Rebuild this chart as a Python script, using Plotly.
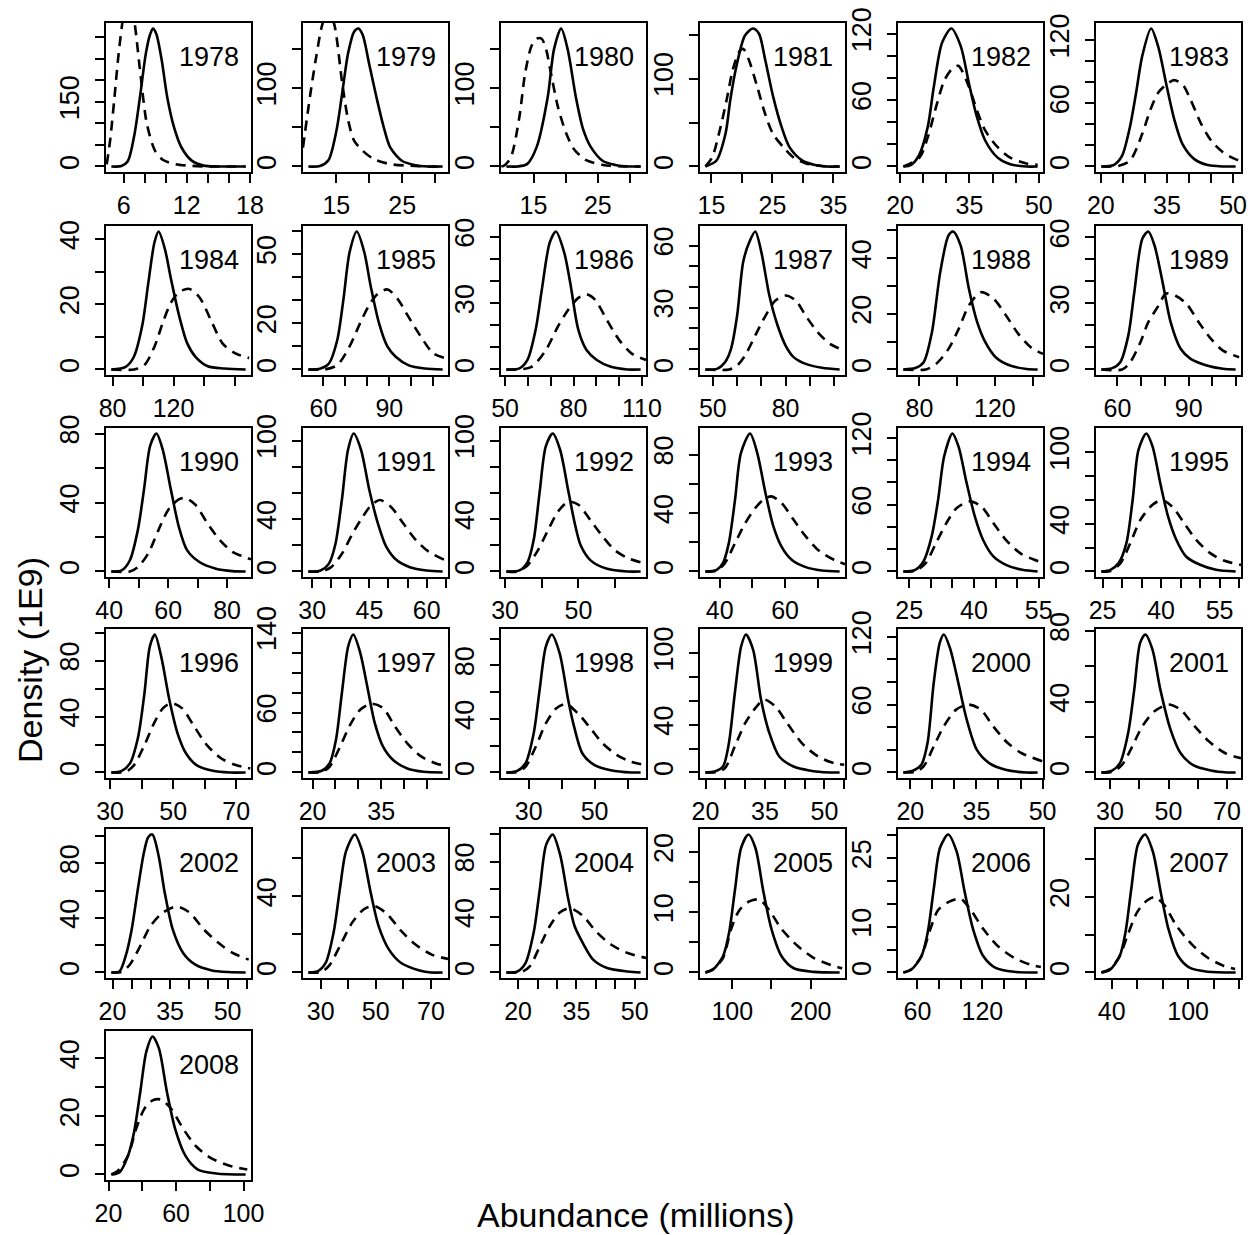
import plotly.graph_objects as go

# ---------------------------------------------------------------------------
# Posterior (solid) and prior (dashed) abundance densities, one panel per year.
# x: abundance (millions), y: density (1E9)
# ---------------------------------------------------------------------------
years = list(range(1978, 2009))

S1978_X = [4.84, 5.8, 6.4, 7.0, 7.55, 8.1, 8.5, 8.79, 9.1, 9.6, 10.15, 10.8, 11.5, 12.5, 13.6, 15.0, 17.59]
S1978_Y = [0, 1, 12, 70, 160, 260, 305, 320, 308, 250, 160, 90, 44, 13, 2, 0, 0]
D1978_X = [4.4, 4.72, 5.11, 5.5, 5.88, 6.45, 7.05, 7.63, 8.21, 8.98, 9.76, 10.92, 12.47, 14.0, 17.59]
D1978_Y = [5, 60, 154, 255, 333, 420, 333, 208, 99, 37, 15, 5.5, 1.5, 0, 0]

S1979_X = [10.76, 12.5, 13.8, 15.0, 15.8, 16.8, 17.7, 18.35, 19.0, 20.0, 21.1, 22.2, 23.2, 25.0, 26.8, 29.0, 31.13]
S1979_Y = [0, 0.5, 8, 45, 88, 145, 172, 176, 168, 130, 88, 50, 24, 7, 2, 0, 0]
D1979_X = [9.94, 11.0, 11.95, 12.87, 13.8, 14.7, 15.9, 16.8, 17.7, 19.0, 20.7, 23.2, 26.2, 29.0, 31.13]
D1979_Y = [24, 89, 140, 181, 200, 181, 106, 59, 33, 20, 9.4, 3, 1, 0, 0]

S1980_X = [10.78, 12.5, 14.0, 15.5, 17.2, 18.2, 19.3, 20.3, 21.6, 22.7, 23.9, 25.8, 27.7, 30.0, 31.66]
S1980_Y = [0, 0, 3, 25, 88, 150, 176, 150, 88, 48, 25, 7, 2, 0, 0]
D1980_X = [10.0, 10.57, 11.5, 12.8, 13.7, 14.7, 15.5, 16.27, 17.0, 17.5, 18.8, 20.1, 21.3, 23.2, 25.8, 29.0, 31.66]
D1980_Y = [0, 2, 12, 63, 119, 154, 163, 163, 148, 128, 76, 42, 22, 8, 2, 0, 0]

S1981_X = [14.01, 15.8, 17.3, 18.1, 19.1, 20.5, 21.8, 22.8, 23.8, 25.1, 26.5, 27.8, 29.8, 31.8, 33.8, 36.02]
S1981_Y = [0, 6.5, 37, 76, 114, 149, 157, 151, 122, 80, 45, 22, 7.3, 2, 0, 0]
D1981_X = [14.01, 15.1, 16.5, 17.5, 18.5, 19.5, 20.2, 21.1, 22.5, 23.8, 25.1, 26.8, 28.5, 30.5, 33.1, 36.02]
D1981_Y = [0, 10, 45, 76, 110, 130, 134, 122, 91, 60, 37, 22, 10, 3.5, 0.5, 0]

S1982_X = [20.72, 22.4, 24.2, 26.0, 27.3, 29.1, 31.1, 33.1, 34.9, 36.6, 38.4, 41.1, 43.8, 47.3, 49.74]
S1982_Y = [0, 1.5, 11, 36, 72, 112, 124.7, 109, 75, 45, 23.5, 8, 2, 0, 0]
D1982_X = [20.72, 24.2, 26.0, 27.8, 29.6, 31.4, 32.6, 34.9, 36.6, 38.4, 41.1, 43.8, 47.3, 49.74]
D1982_Y = [0, 8, 26.5, 54, 78, 89, 91, 72, 51, 32.6, 17.4, 8, 2.7, 1.5]

S1983_X = [20.12, 23.0, 24.8, 26.6, 28.0, 29.4, 31.4, 33.0, 34.8, 36.7, 38.5, 41.2, 44.0, 47.7, 50.58]
S1983_Y = [0, 1.6, 10, 37.5, 70, 105, 131, 114, 79, 44, 21.5, 7, 1.6, 0, 0]
D1983_X = [20.12, 23.9, 26.6, 29.4, 31.2, 33.0, 34.8, 36.6, 38.6, 40.4, 42.7, 45.0, 47.7, 50.5, 51.8]
D1983_Y = [0, 0.5, 5.4, 31, 53.5, 70, 77.6, 82, 77.6, 63, 41, 24.7, 13.5, 7, 5.4]

S1984_X = [79.22, 88.6, 94.0, 99.4, 103.5, 107.5, 110.2, 114.3, 118.3, 123.7, 129.0, 134.4, 142.5, 153.3, 167.28]
S1984_Y = [0, 0.8, 3.9, 13.3, 26.7, 39, 42.3, 37, 27.8, 16.4, 8, 3.9, 1, 0.3, 0]
D1984_X = [79.22, 94.0, 100.8, 107.5, 112.9, 118.3, 123.7, 130.5, 137.2, 145.3, 152.1, 160.2, 169.6]
D1984_Y = [0, 0, 1.3, 7, 14.3, 20.5, 23.8, 24.7, 22, 14.3, 8, 5, 3.5]

S1985_X = [53.14, 58.7, 62.5, 66.3, 69.1, 71.9, 75.2, 78.6, 81.5, 85.3, 89.1, 92.9, 98.6, 106.2, 114.26]
S1985_Y = [0, 0.4, 2.6, 12.8, 30.4, 50.8, 59.8, 50.8, 36.2, 20.1, 10, 5.5, 1.9, 0.4, 0]
D1985_X = [53.14, 60.6, 66.3, 71.9, 76.7, 80.5, 84.4, 89.1, 93.9, 98.6, 104.3, 110.0, 115.7]
D1985_Y = [0, 0, 1.9, 10, 20.1, 27.4, 32.5, 34.7, 30.4, 23, 14.3, 7, 4.8]

S1986_X = [50.56, 56.3, 59.8, 63.4, 66.1, 69.6, 72.3, 75.9, 78.6, 82.1, 85.7, 90.2, 96.4, 103.6, 109.44]
S1986_Y = [0, 0.5, 4.3, 18, 36, 57.5, 62.4, 53, 39, 18, 8.8, 4.3, 1.2, 0, 0]
D1986_X = [50.56, 55.4, 61.6, 67.9, 73.2, 77.7, 82.1, 85.7, 89.3, 94.6, 100.0, 105.4, 111.8]
D1986_Y = [0, 0, 1.2, 8.8, 19.5, 27, 32.4, 34, 31.7, 22.5, 13.4, 7.3, 4.3]

S1987_X = [46.91, 51.7, 55.0, 57.5, 60.0, 62.5, 65.0, 67.5, 70.0, 73.3, 76.7, 80.0, 83.3, 88.3, 95.0, 102.29]
S1987_Y = [0, 0.3, 3.5, 10, 26, 52, 61.6, 66.8, 56.8, 35.8, 21.3, 11.6, 6, 2.7, 0.8, 0]
D1987_X = [46.91, 56.7, 60.0, 63.3, 67.5, 71.7, 75.8, 80.0, 84.2, 88.3, 93.3, 98.3, 102.5]
D1987_Y = [0, 0, 1.9, 6.8, 16.5, 26, 33.4, 35.8, 33.4, 26, 18, 12.4, 10]

S1988_X = [71.45, 77.8, 82.2, 86.6, 91.0, 95.4, 97.9, 101.8, 106.2, 110.6, 114.9, 120.4, 128.0, 136.8, 142.65]
S1988_Y = [0, 0.5, 2.6, 13.4, 35, 48.2, 49.6, 44.6, 29, 17, 9.8, 4.4, 1.4, 0.2, 0]
D1988_X = [71.45, 83.3, 88.8, 95.4, 100.8, 106.2, 112.7, 119.3, 125.9, 132.4, 139.0, 145.5]
D1988_Y = [0, 0, 2, 7.4, 14.6, 23, 27.8, 25.4, 19.4, 12.8, 8, 5.6]

S1989_X = [53.26, 57.8, 61.2, 64.6, 67.1, 70.5, 73.0, 75.6, 79.0, 82.4, 86.6, 90.8, 97.6, 104.4, 109.74]
S1989_Y = [0, 0.6, 3.3, 15.5, 35, 59.4, 62.7, 56.4, 39.7, 21.5, 9.4, 4.8, 1.8, 0.3, 0]
D1989_X = [53.26, 62.0, 65.4, 69.7, 73.0, 77.3, 80.5, 84.5, 89.1, 94.2, 99.3, 104.4, 111.2]
D1989_Y = [0, 0, 3.3, 12.4, 21.5, 29, 34.5, 33.5, 29.8, 21.5, 14, 8.6, 5.6]

S1990_X = [40.72, 44.2, 47.0, 49.7, 51.8, 53.9, 56.0, 58.1, 60.9, 63.6, 66.4, 70.6, 76.2, 81.8, 86.28]
S1990_Y = [0, 0.6, 6.5, 24, 47.6, 73, 80, 71, 47.6, 26, 12.4, 5.5, 1.6, 0.2, 0]
D1990_X = [40.72, 47.0, 49.7, 53.2, 56.7, 60.1, 63.6, 65.7, 69.2, 73.3, 77.5, 81.8, 86.0, 88.1]
D1990_Y = [0, 0, 2.5, 10.4, 24, 36, 41.8, 42.7, 38.8, 28, 18.2, 11.4, 8.4, 7]

S1991_X = [29.01, 32.2, 34.4, 36.1, 37.8, 39.4, 40.9, 42.8, 45.0, 47.2, 49.4, 52.2, 55.6, 60.0, 64.19]
S1991_Y = [0, 0.8, 6, 21, 55, 93, 105.4, 93, 62, 37, 19, 8.5, 3.3, 0.8, 0]
D1991_X = [29.01, 32.2, 35.0, 37.8, 40.6, 43.3, 45.6, 47.8, 50.6, 53.9, 57.2, 60.6, 65.0, 65.6]
D1991_Y = [0, 0, 3.3, 13.6, 29, 42, 51, 54.6, 49.5, 36.7, 24, 15, 8.5, 8]

S1992_X = [30.36, 33.9, 36.1, 37.8, 39.4, 41.1, 43.0, 45.0, 47.2, 48.9, 50.6, 53.3, 57.8, 63.3, 66.94]
S1992_Y = [0, 0.8, 7, 24, 60, 95.6, 105.4, 93, 62, 38, 20, 8.5, 2, 0, 0]
D1992_X = [30.36, 33.3, 36.1, 38.9, 41.7, 44.4, 47.2, 50.0, 53.3, 56.7, 60.0, 63.9, 68.4]
D1992_Y = [0, 0, 4.6, 16, 31.5, 45.6, 53.3, 51, 39, 26.4, 16, 9.7, 5.9]

S1993_X = [35.64, 39.1, 41.0, 42.8, 44.7, 46.5, 49.3, 51.5, 54.0, 56.4, 58.9, 62.0, 66.3, 71.2, 76.66]
S1993_Y = [0, 1.1, 5.7, 19.4, 49, 81, 94.4, 81, 53.7, 31, 17, 8, 3, 0.7, 0]
D1993_X = [35.64, 39.1, 41.6, 44.7, 47.8, 50.9, 53.3, 55.8, 58.9, 62.6, 66.3, 70.6, 74.9, 78.3]
D1993_Y = [0, 0.5, 5.7, 19.4, 33, 43.4, 49, 51.4, 46.9, 35.4, 24, 13.7, 8, 5]

S1994_X = [23.64, 26.4, 28.3, 30.2, 31.7, 33.1, 35.0, 36.4, 38.3, 40.2, 42.1, 44.5, 47.4, 51.2, 54.76]
S1994_Y = [0, 1.5, 9, 31.5, 64.6, 103.6, 124, 112.6, 79.6, 49.5, 28.5, 13.5, 6, 1.5, 0]
D1994_X = [23.64, 26.4, 28.8, 31.2, 33.6, 36.0, 39.0, 41.7, 44.5, 47.4, 50.7, 54.0, 56.0]
D1994_Y = [0, 0.5, 7.5, 25.5, 43.5, 57, 63, 58.5, 43.5, 28.5, 16.5, 10.5, 8]

S1995_X = [24.68, 27.0, 29.1, 31.1, 32.7, 34.2, 36.2, 37.8, 39.8, 41.8, 43.9, 46.4, 50.0, 54.1, 59.12]
S1995_Y = [0, 1.4, 7, 23.8, 60, 102, 115.8, 105, 74, 46, 26.6, 12.6, 5.6, 1.4, 0]
D1995_X = [24.68, 27.0, 29.6, 32.1, 34.7, 37.8, 40.2, 42.8, 45.9, 49.0, 52.6, 56.1, 60.5]
D1995_Y = [0, 0.3, 7, 23.8, 43.4, 56, 60, 54.6, 40.6, 26.6, 15.4, 9.2, 5.5]

S1996_X = [30.4, 33.7, 36.3, 38.9, 40.9, 42.6, 44.2, 46.2, 48.8, 51.4, 54.1, 57.4, 62.6, 67.9, 73.0]
S1996_Y = [0, 1.2, 6.5, 25.6, 56.7, 90, 98.6, 83, 52, 28, 13.6, 5.3, 1.2, 0, 0]
D1996_X = [30.4, 35.0, 37.6, 40.9, 44.2, 46.8, 49.5, 52.8, 56.7, 60.7, 65.3, 69.9, 74.5]
D1996_Y = [0, 0.5, 5.3, 19.6, 36.4, 46, 49.5, 46, 32.8, 19.6, 10, 5.3, 2.9]

S1997_X = [19.07, 22.0, 23.7, 25.1, 26.4, 27.8, 28.9, 30.4, 31.8, 33.6, 35.4, 37.6, 40.7, 44.3, 48.43]
S1997_Y = [0, 1.7, 9, 32.5, 79.5, 126.5, 138, 120, 89.6, 49.3, 25.8, 12.4, 4, 0.7, 0]
D1997_X = [19.07, 22.0, 23.7, 26.0, 28.2, 30.4, 32.9, 35.4, 38.0, 40.7, 43.8, 47.0, 49.2]
D1997_Y = [0, 0.5, 5.7, 25.8, 47.6, 62.7, 68.8, 64.4, 46, 29.2, 15.8, 9, 6.4]

S1998_X = [23.23, 26.5, 29.0, 31.5, 33.3, 35.2, 37.0, 39.4, 42.0, 43.8, 46.3, 50.0, 54.9, 61.1, 63.97]
S1998_Y = [0, 1.2, 6.7, 29, 61.4, 94, 103, 89, 54, 34, 14.2, 5.5, 1.7, 0, 0]
D1998_X = [23.23, 26.5, 29.0, 32.1, 35.2, 38.3, 41.4, 45.0, 48.8, 52.5, 56.8, 61.1, 65.6]
D1998_Y = [0, 0.3, 4.2, 19, 36.6, 47.8, 51, 44, 32.8, 21.6, 13, 8, 5.5]

S1999_X = [19.96, 22.3, 24.4, 25.9, 27.4, 29.0, 30.2, 32.0, 34.0, 36.1, 38.6, 42.2, 46.2, 51.3, 53.84]
S1999_Y = [0, 0.8, 5, 24.6, 66.5, 105.6, 115.4, 102.8, 61, 33, 13.4, 5, 1.7, 0, 0]
D1999_X = [19.96, 22.8, 24.9, 27.4, 30.0, 32.6, 34.8, 37.6, 40.6, 44.3, 48.4, 52.4, 55.0]
D1999_Y = [0, 0.3, 3.6, 21.8, 41.3, 54, 61, 55.3, 41.3, 24.6, 13.4, 7.8, 6.4]

S2000_X = [18.42, 20.7, 22.5, 23.9, 25.3, 26.7, 27.6, 29.0, 30.9, 32.8, 35.1, 37.9, 41.6, 46.3, 48.88]
S2000_Y = [0, 1.8, 6.8, 26, 79, 115, 122, 110, 79, 46.7, 20, 8.3, 2.4, 0, 0]
D2000_X = [18.42, 21.1, 23.0, 25.3, 27.6, 30.4, 33.2, 36.0, 38.8, 42.1, 45.3, 50.0]
D2000_Y = [0, 0.5, 5.3, 23, 40.8, 55.6, 60, 55.6, 40.8, 26, 17, 9.8]

S2001_X = [27.04, 30.7, 33.4, 36.2, 38.3, 40.3, 42.1, 44.5, 47.2, 50.7, 54.1, 58.3, 64.5, 70.0, 72.96]
S2001_Y = [0, 1.1, 5.3, 22.3, 47, 73.3, 78, 69.6, 47, 24.2, 11, 4.3, 1.1, 0, 0]
D2001_X = [27.04, 30.7, 34.1, 37.6, 41.0, 45.2, 50.0, 54.1, 59.0, 63.8, 69.3, 74.8]
D2001_Y = [0, 0.3, 4.3, 14.7, 26, 34.6, 38.4, 35.5, 26, 17.6, 11, 8.1]

S2002_X = [19.7, 21.8, 23.4, 25.0, 26.6, 28.2, 29.3, 30.4, 32.0, 33.6, 35.7, 38.4, 41.6, 45.9, 50.2, 54.7]
S2002_Y = [0, 0.7, 11.8, 31.5, 61, 88, 99, 101, 85.7, 58.6, 31.5, 14.3, 5.7, 1.5, 0.3, 0]
D2002_X = [19.7, 22.4, 24.5, 27.2, 29.9, 33.1, 36.8, 40.1, 43.8, 47.6, 51.3, 55.5]
D2002_Y = [0, 0.5, 5.7, 19.2, 34, 43.8, 48.3, 43.8, 31.5, 21.7, 14.3, 9.4]

S2003_X = [25.55, 28.8, 31.8, 34.7, 37.0, 39.2, 42.4, 45.1, 48.1, 51.0, 54.8, 59.2, 65.9, 70.0, 74.25]
S2003_Y = [0, 0.5, 5, 21, 44, 63.6, 72.4, 63.6, 42.3, 24.5, 12, 5, 1.1, 0, 0]
D2003_X = [25.55, 30.3, 33.3, 37.0, 41.5, 45.9, 49.6, 54.1, 59.2, 64.4, 70.3, 76.2]
D2003_Y = [0, 0.3, 4, 13.9, 26.3, 33.4, 34.8, 30.7, 21.8, 14.7, 9.4, 7.1]

S2004_X = [16.98, 19.8, 21.9, 24.0, 25.6, 27.2, 28.9, 30.8, 32.9, 34.5, 36.6, 39.3, 42.9, 48.2, 51.52]
S2004_Y = [0, 0.7, 6.8, 28.8, 60.5, 92, 99.5, 85, 53, 33.7, 21.5, 9.3, 3.2, 0.7, 0]
D2004_X = [16.98, 20.8, 23.0, 25.6, 28.2, 30.8, 33.4, 36.6, 40.3, 43.9, 48.2, 52.9]
D2004_Y = [0, 0.3, 4.4, 19, 33.7, 43.4, 46.3, 41, 28.8, 20.2, 14, 10.5]

S2005_X = [65.65, 75.3, 88.1, 95.9, 103.6, 111.3, 120.6, 129.4, 139.7, 150.0, 162.9, 178.4, 204.1, 236.95]
S2005_Y = [0, 0.45, 2.7, 6.6, 13.9, 20.7, 22.9, 20.7, 13.4, 7.2, 2.7, 0.7, 0.1, 0]
D2005_X = [65.65, 75.3, 88.1, 98.5, 108.8, 121.6, 134.5, 147.4, 162.9, 183.5, 204.1, 224.7, 240.2]
D2005_Y = [0, 0.56, 2.4, 7.2, 10.3, 11.8, 12.1, 10.3, 7.2, 4.4, 2.4, 1.3, 0.7]

S2006_X = [47.06, 54.3, 63.8, 69.5, 75.2, 80.9, 88.5, 96.2, 103.7, 111.4, 120.8, 132.2, 149.3, 171.04]
S2006_Y = [0, 0.6, 3.6, 8.7, 18.4, 27.3, 30.2, 26.5, 17.6, 9.5, 3.6, 1, 0.15, 0]
D2006_X = [47.06, 54.3, 63.8, 71.4, 79.0, 88.5, 100.0, 109.5, 120.9, 134.2, 149.4, 164.5, 174.0]
D2006_Y = [0, 0.7, 3.6, 9.1, 13.6, 15.4, 16.1, 13.6, 9.5, 5.8, 3.2, 1.7, 1.2]

S2007_X = [31.91, 38.5, 46.2, 50.8, 55.4, 60.6, 66.2, 72.3, 78.5, 84.6, 92.3, 101.5, 115.4, 137.29]
S2007_Y = [0, 0.7, 4.3, 10.6, 22.2, 33.9, 36.6, 32.1, 21.3, 11.5, 4.3, 1.2, 0.2, 0]
D2007_X = [31.91, 38.5, 46.2, 52.3, 60.0, 67.7, 73.8, 81.5, 90.8, 103.1, 115.4, 127.7, 136.9]
D2007_Y = [0, 0.9, 4.3, 9.7, 16, 19.1, 20, 17.8, 12.4, 7.4, 3.9, 1.8, 0.9]

S2008_X = [21.68, 26.6, 31.5, 35.1, 38.8, 42.4, 46.1, 49.8, 54.6, 59.5, 65.6, 72.9, 83.9, 101.22]
S2008_Y = [0, 0.8, 6.4, 14.5, 28.4, 42.3, 47.5, 43.5, 28.4, 15.6, 6.4, 1.7, 0.35, 0]
D2008_X = [21.68, 25.4, 31.5, 36.3, 41.2, 46.1, 51.0, 57.1, 64.4, 71.7, 80.2, 91.2, 102.2]
D2008_Y = [0, 1.2, 6.4, 15.6, 22.6, 25.5, 25.8, 22.6, 15.6, 9.8, 5.8, 3.1, 1.7]

# Tick positions per panel (in year order) and the subset that carries a label
x_ticks = [
    [6, 8, 10, 12, 14, 16, 18], [15, 20, 25, 30], [15, 20, 25, 30], [15, 20, 25, 30, 35],
    [20, 25, 30, 35, 40, 45, 50], [20, 25, 30, 35, 40, 45, 50],
    [80, 100, 120, 140, 160], [60, 70, 80, 90, 100, 110], [50, 60, 70, 80, 90, 100, 110],
    [50, 60, 70, 80, 90, 100], [80, 100, 120, 140], [60, 70, 80, 90, 100, 110],
    [40, 50, 60, 70, 80], [30, 35, 40, 45, 50, 55, 60, 65], [30, 40, 50, 60],
    [40, 50, 60, 70], [25, 30, 35, 40, 45, 50, 55], [25, 30, 35, 40, 45, 50, 55, 60],
    [30, 40, 50, 60, 70], [20, 25, 30, 35, 40, 45], [30, 40, 50, 60],
    [20, 25, 30, 35, 40, 45, 50, 55], [20, 25, 30, 35, 40, 45, 50], [30, 40, 50, 60, 70],
    [20, 25, 30, 35, 40, 45, 50, 55], [30, 40, 50, 60, 70], [20, 25, 30, 35, 40, 45, 50],
    [100, 150, 200], [60, 80, 100, 120, 140, 160], [40, 60, 80, 100, 120, 140],
    [20, 40, 60, 80, 100],
]
x_labeled = [
    [6, 12, 18], [15, 25], [15, 25], [15, 25, 35], [20, 35, 50], [20, 35, 50],
    [80, 120], [60, 90], [50, 80, 110], [50, 80], [80, 120], [60, 90],
    [40, 60, 80], [30, 45, 60], [30, 50], [40, 60], [25, 40, 55], [25, 40, 55],
    [30, 50, 70], [20, 35], [30, 50], [20, 35, 50], [20, 35, 50], [30, 50, 70],
    [20, 35, 50], [30, 50, 70], [20, 35, 50], [100, 200], [60, 120], [40, 100],
    [20, 60, 100],
]
y_ticks = [
    [0, 50, 100, 150, 200, 250, 300], [0, 50, 100, 150], [0, 50, 100, 150], [0, 50, 100, 150],
    [0, 20, 40, 60, 80, 100, 120], [0, 20, 40, 60, 80, 100, 120],
    [0, 10, 20, 30, 40], [0, 10, 20, 30, 40, 50, 60], [0, 10, 20, 30, 40, 50, 60],
    [0, 10, 20, 30, 40, 50, 60], [0, 10, 20, 30, 40, 50], [0, 10, 20, 30, 40, 50, 60],
    [0, 20, 40, 60, 80], [0, 20, 40, 60, 80, 100], [0, 20, 40, 60, 80, 100],
    [0, 20, 40, 60, 80], [0, 20, 40, 60, 80, 100, 120], [0, 20, 40, 60, 80, 100],
    [0, 20, 40, 60, 80, 100], [0, 20, 40, 60, 80, 100, 120, 140], [0, 20, 40, 60, 80, 100],
    [0, 20, 40, 60, 80, 100], [0, 20, 40, 60, 80, 100, 120], [0, 20, 40, 60, 80],
    [0, 20, 40, 60, 80, 100], [0, 20, 40, 60], [0, 20, 40, 60, 80, 100],
    [0, 5, 10, 15, 20], [0, 5, 10, 15, 20, 25, 30], [0, 10, 20, 30],
    [0, 10, 20, 30, 40],
]
y_labeled = [
    [0, 150], [0, 100], [0, 100], [0, 100], [0, 60, 120], [0, 60, 120],
    [0, 20, 40], [0, 20, 50], [0, 30, 60], [0, 30, 60], [0, 20, 40], [0, 30, 60],
    [0, 40, 80], [0, 40, 100], [0, 40, 100], [0, 40, 80], [0, 60, 120], [0, 40, 100],
    [0, 40, 80], [0, 60, 140], [0, 40, 80], [0, 40, 100], [0, 60, 120], [0, 40, 80],
    [0, 40, 80], [0, 40], [0, 40, 80], [0, 10, 20], [0, 10, 25], [0, 20],
    [0, 20, 40],
]

curves = {y: (globals()[f"S{y}_X"], globals()[f"S{y}_Y"],
              globals()[f"D{y}_X"], globals()[f"D{y}_Y"]) for y in years}

# ---------------------------------------------------------------------------
# Page geometry (pixels)
# ---------------------------------------------------------------------------
W, H = 1254, 1235
COL_LEFT = [106, 303, 501, 700, 898, 1096]
ROW_TOP = [23, 226, 428, 629, 829, 1031]
BOX_W, BOX_H = 145, 149
FONT = "Liberation Sans, Arial, Helvetica, sans-serif"

fig = go.Figure()
layout = dict(
    width=W, height=H, margin=dict(l=0, r=0, t=0, b=0, autoexpand=False),
    paper_bgcolor="white", plot_bgcolor="white", showlegend=False,
    font=dict(family=FONT, color="black"),
)
annotations = []

axis_common = dict(
    showline=True, mirror=True, linecolor="black", linewidth=2,
    ticks="outside", ticklen=9, tickwidth=2, tickcolor="black",
    showgrid=False, zeroline=False, tickmode="array", automargin=False,
)

for i, yr in enumerate(years):
    r, c = divmod(i, 6)
    n = "" if i == 0 else str(i + 1)
    sx, sy, dx, dy = curves[yr]

    # R-style 4% padding around the data range
    x0, x1 = sx[0], sx[-1]
    xpad = 0.04 * (x1 - x0)
    ymax = max(sy)

    left = COL_LEFT[c]
    top = ROW_TOP[r]
    layout[f"xaxis{n}"] = dict(
        axis_common,
        domain=[left / W, (left + BOX_W) / W],
        range=[x0 - xpad, x1 + xpad],
        anchor=f"y{n}",
        tickvals=x_ticks[i],
        ticktext=[str(v) if v in x_labeled[i] else "" for v in x_ticks[i]],
        tickfont=dict(family=FONT, size=25, color="black"),
        ticklabelstandoff=1,
    )
    layout[f"yaxis{n}"] = dict(
        axis_common,
        domain=[1 - (top + BOX_H) / H, 1 - top / H],
        range=[-0.04 * ymax, 1.04 * ymax],
        anchor=f"x{n}",
        tickvals=y_ticks[i],
        ticktext=[str(v) if v in y_labeled[i] else "" for v in y_ticks[i]],
        tickfont=dict(family=FONT, size=27, color="black"),
        tickangle=-90,
        ticklabelstandoff=5,
    )

    fig.add_trace(go.Scatter(
        x=sx, y=sy, mode="lines", xaxis=f"x{n}", yaxis=f"y{n}",
        line=dict(color="black", width=2.6, shape="spline", smoothing=0.8),
        hoverinfo="skip",
    ))
    fig.add_trace(go.Scatter(
        x=dx, y=dy, mode="lines", xaxis=f"x{n}", yaxis=f"y{n}",
        line=dict(color="black", width=2.6, dash="10px,7px", shape="spline", smoothing=0.8),
        hoverinfo="skip",
    ))

    annotations.append(dict(
        text=str(yr), xref=f"x{n} domain", yref=f"y{n} domain",
        x=0.93, y=0.77, xanchor="right", yanchor="middle", showarrow=False,
        font=dict(family=FONT, size=27, color="black"),
    ))

annotations.append(dict(
    text="Abundance (millions)", xref="paper", yref="paper",
    x=636 / W, y=1 - 1215 / H, xanchor="center", yanchor="middle", showarrow=False,
    font=dict(family=FONT, size=34, color="black"),
))
annotations.append(dict(
    text="Density (1E9)", xref="paper", yref="paper", textangle=-90,
    x=30 / W, y=1 - 660 / H, xanchor="center", yanchor="middle", showarrow=False,
    font=dict(family=FONT, size=34, color="black"),
))

layout["annotations"] = annotations
fig.update_layout(**layout)
fig.write_html("out.html")
